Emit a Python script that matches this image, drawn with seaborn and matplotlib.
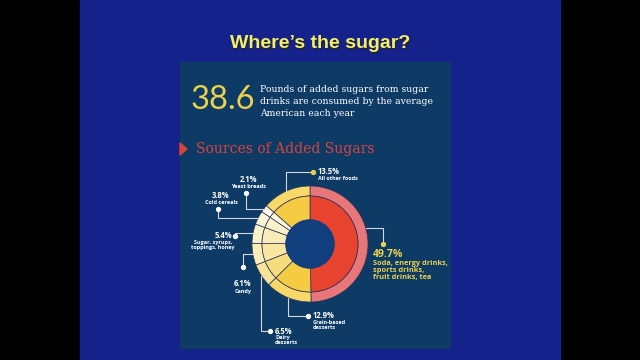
import numpy as np
import matplotlib
matplotlib.use("Agg")
import matplotlib.pyplot as plt
import seaborn as sns
from matplotlib.patches import Rectangle, Polygon, Circle

# ----------------------------------
# Data
# ----------------------------------
title = "Where\u2019s the sugar?"
big_number = "38.6"
blurb = ["Pounds of added sugars from sugar",
         "drinks are consumed by the average",
         "American each year"]
section = "Sources of Added Sugars"

# clockwise from 12 o'clock
shares = [49.7, 12.9, 6.5, 6.1, 5.4, 3.8, 2.1, 13.5]
names = ["Soda, energy drinks,\nsports drinks,\nfruit drinks, tea",
         "Grain-based\ndesserts",
         "Dairy\ndesserts",
         "Candy",
         "Sugar, syrups,\ntoppings, honey",
         "Cold cereals",
         "Yeast breads",
         "All other foods"]
wedge_colors = ["#E8432F", "#F4CB42", "#F6DC7E", "#F8E6A2", "#FAECB9",
                "#FBF1C9", "#FDF7E1", "#F4CB42"]
band_colors = ["#E8767A", "#F7D868", "#F8E496", "#FAEDB8", "#FBF1C9",
               "#FCF5D8", "#FEFAEC", "#F7D868"]

# label layout: dot position and elbow style of the leader line
dots = [(383, 244), (308, 316), (270, 331), (243, 267),
        (235, 236), (218, 209), (246, 193), (313, 172)]
elbow = ["v", "h", "h", "v", "v", "v", "v", "h"]

sns.set_theme(style="white")
plt.rcParams['font.family'] = ['Open Sans', 'DejaVu Sans']

fig = plt.figure(figsize=(6.4, 3.6), dpi=100)
fig.patch.set_facecolor("black")
ax = fig.add_axes([0, 0, 1, 1])

cx, cy, R = 310, 244, 58
ax.pie(shares, colors=band_colors, radius=R, center=(cx, cy),
       startangle=-90, counterclock=True,
       wedgeprops=dict(width=10, edgecolor="#2A3558", linewidth=0.5))
ax.pie(shares, colors=wedge_colors, radius=R - 10, center=(cx, cy),
       startangle=-90, counterclock=True,
       wedgeprops=dict(width=24, edgecolor="#2A3558", linewidth=0.5))

ax.set_xlim(0, 640)
ax.set_ylim(360, 0)
ax.set_aspect("auto")
ax.axis("off")

# slide background and panel
ax.add_patch(Rectangle((80, 0), 480, 360, color="#15228C", zorder=-3))
ax.add_patch(Rectangle((180, 62), 270, 286, color="#0E3A66", zorder=-2))
ax.add_patch(Circle((cx, cy), 24, color="#113F7E", zorder=3))

ax.text(321, 45, title, ha="center", va="center", fontsize=14,
        fontweight="bold", color="#202040", family="Liberation Sans")
ax.text(320, 44, title, ha="center", va="center", fontsize=14,
        fontweight="bold", color="#F2F064", family="Liberation Sans")

ax.text(191, 100, big_number, ha="left", va="center", fontsize=23.5,
        color="#EBD24C", family="Lato")
for i, line in enumerate(blurb):
    ax.text(260, 89 + 12 * i, line, ha="left", va="center", fontsize=6.7,
            color="white", family="DejaVu Serif")

ax.add_patch(Polygon([(180, 143), (187, 149), (180, 155)], color="#D8443C"))
ax.text(196, 149, section, ha="left", va="center", fontsize=10,
        color="#D8443C", family="DejaVu Serif")

# leader lines and labels
cum = np.cumsum([0] + shares[:-1])
for i, (val, name) in enumerate(zip(shares, names)):
    frac = (cum[i] + val / 2) / 100.0
    if i == 0:
        frac = 0.205
    ang = 2 * np.pi * frac
    px, py = cx + R * np.sin(ang), cy - R * np.cos(ang)
    dx, dy = dots[i]
    if elbow[i] == "v":
        xs, ys = [dx, dx, px], [dy, py, py]
    else:
        xs, ys = [dx, px, px], [dy, dy, py]
    dot_col = "#EBD24C" if i in (0, 7) else "white"
    ax.plot(xs, ys, color="#D5D8DC", lw=0.8, zorder=4)
    ax.plot(dx, dy, "o", ms=2.8, color=dot_col, zorder=5)

    pct = f"{val}%"
    if i == 0:
        ax.text(373, 254.5, pct, ha="left", va="center", fontsize=7.5,
                fontweight="bold", color="#EBD24C")
        ax.text(373, 260, name, ha="left", va="top", fontsize=5.3,
                fontweight="bold", color="#EBD24C", linespacing=1.05)
    elif i in (1, 2, 7):
        ax.text(dx + 5, dy, pct, ha="left", va="center", fontsize=5.5,
                fontweight="bold", color="white")
        ax.text(dx + 5, dy + 4, name, ha="left", va="top", fontsize=4,
                fontweight="bold", color="white", linespacing=1.1)
    elif i == 4:
        ax.text(dx - 3, dy, pct, ha="right", va="center", fontsize=5.5,
                fontweight="bold", color="white")
        ax.text(213, dy + 4, name, ha="center", va="top", fontsize=4,
                fontweight="bold", color="white", linespacing=1.1)
    elif i == 3:
        ax.text(dx, dy + 17, pct, ha="center", va="center", fontsize=5.5,
                fontweight="bold", color="white")
        ax.text(dx, dy + 24, name, ha="center", va="center", fontsize=4,
                fontweight="bold", color="white")
    else:
        ax.text(dx + 3, dy - 13, pct, ha="center", va="center", fontsize=5.5,
                fontweight="bold", color="white")
        ax.text(dx + 3, dy - 6.5, name, ha="center", va="center", fontsize=4,
                fontweight="bold", color="white")

fig.savefig("out.png", dpi=100, facecolor=fig.get_facecolor())
